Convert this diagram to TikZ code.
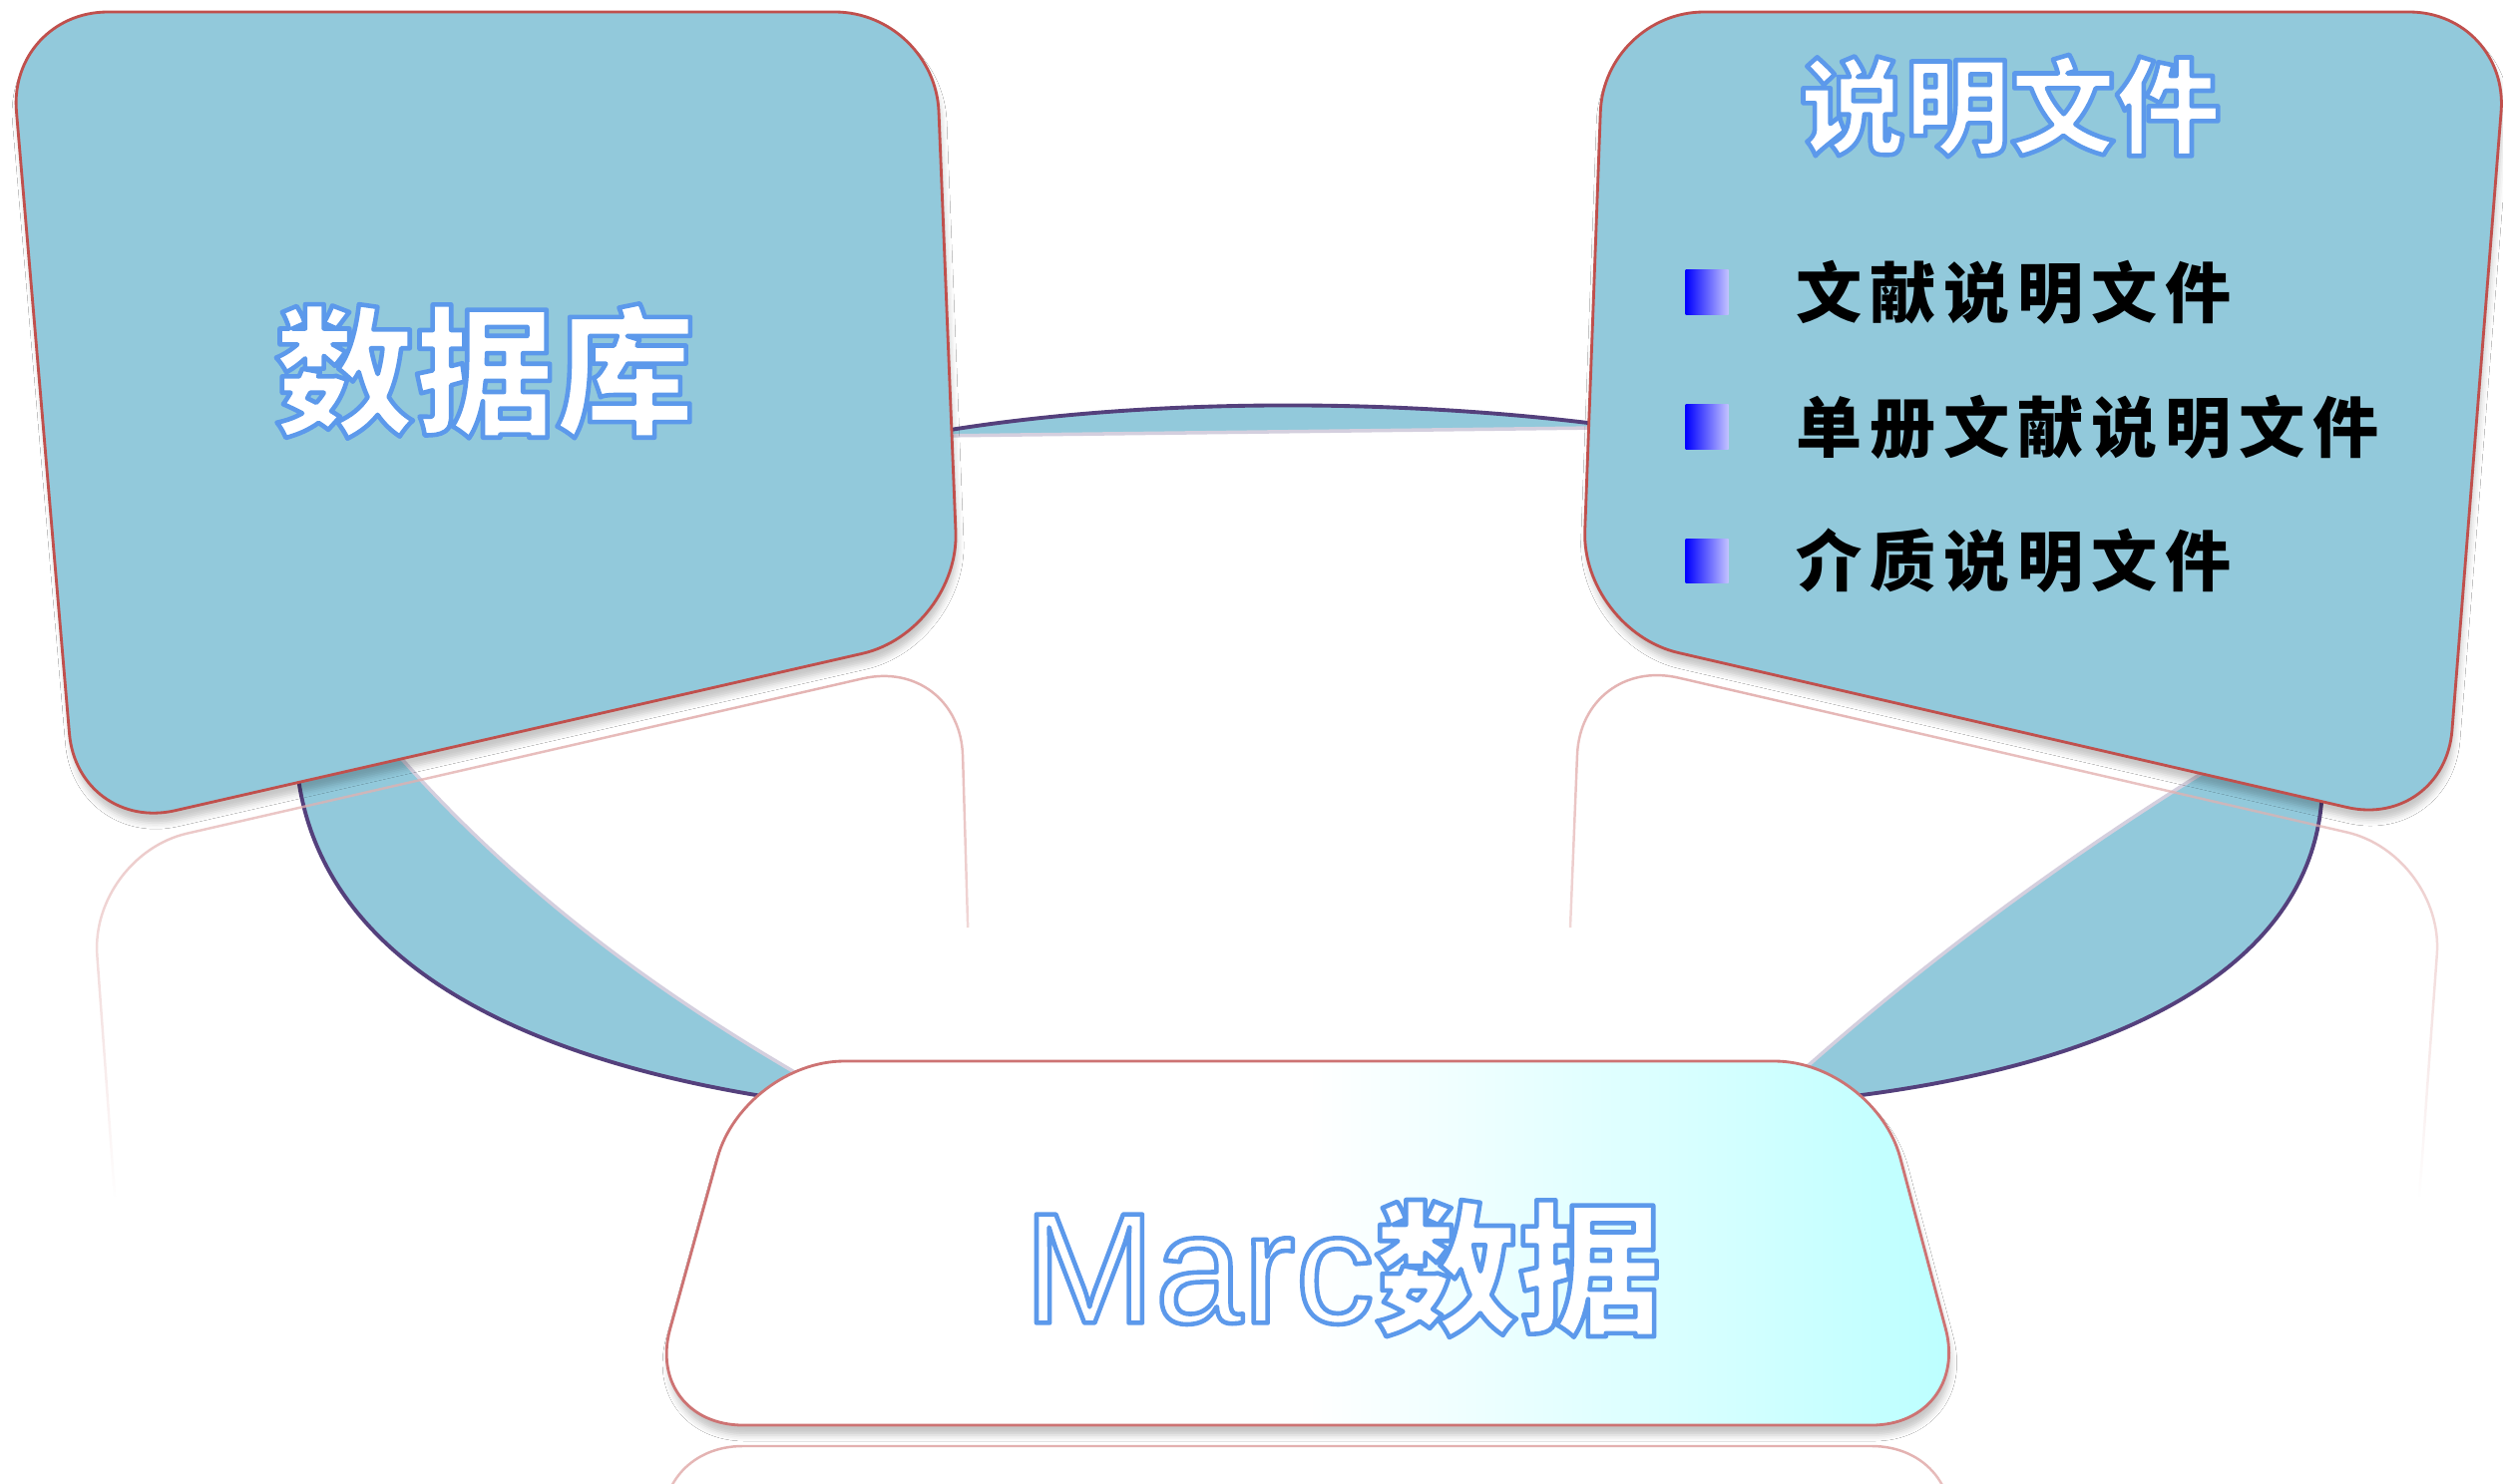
\documentclass[tikz,border=0pt]{standalone}
\usepackage{fontspec}
\usetikzlibrary{fadings, shadows.blur}
\newfontfamily\cjk{Noto Sans CJK SC}
\newfontfamily\cjkitem{Noto Sans CJK SC}[LetterSpace=12]
\newfontfamily\latin{Liberation Sans}
\definecolor{boxblue}{RGB}{146,201,219}
\definecolor{boxred}{RGB}{192,80,77}
\definecolor{bandpurple}{RGB}{84,64,124}
\definecolor{marccyan}{RGB}{186,255,255}
\definecolor{marcred}{RGB}{205,115,115}
\definecolor{bulletpale}{RGB}{195,195,255}
\tikzfading[name=fade down, top color=transparent!0, bottom color=transparent!100]
% white letters with a thin blue rim (fill and stroke)
\newcommand\arttext[1]{\special{pdf:literal direct 2 Tr 1.3 w 1 j 0.36 0.60 0.92 RG}#1\special{pdf:literal direct 0 Tr 0.4 w 0 j}}

\begin{document}
\begin{tikzpicture}[x=0.01cm, y=-0.01cm]
		\tikzset{box/.style={draw=boxred, line width=0.8pt, rounded corners=1cm}}
		\tikzset{boxshadow/.style={blur shadow={shadow xshift=0.02cm, shadow yshift=-0.1cm, shadow blur radius=0.06cm, shadow opacity=22}}}
		\tikzset{band/.style={fill=boxblue}}
		\tikzset{edge/.style={draw=bandpurple, line width=1.1pt}}
		\tikzset{glow/.style={draw=bandpurple!25, line width=1pt}}
		\tikzset{mirror/.style={draw=boxred!45, line width=0.7pt, rounded corners=1cm, path fading=fade down}}
		\tikzset{title/.style={inner sep=0pt, text=white, font=\cjk\bfseries\fontsize{40}{40}\selectfont}}
		\tikzset{item/.style={inner sep=0pt, anchor=west, font=\cjkitem\bfseries\fontsize{18.8}{20}\selectfont}}
		\tikzset{bullet/.style={inner sep=0pt, minimum width=0.43cm, minimum height=0.44cm, left color=blue, right color=bulletpale}}
		
		\path[use as bounding box, fill=white] (0,0) rectangle (2509,1487);
		
		% corners of the three boxes
		\coordinate (db1) at (8,12);
		\coordinate (db2) at (937,12);
		\coordinate (db3) at (962,633);
		\coordinate (db4) at (78,835);
		
		\coordinate (doc1) at (1608,12);
		\coordinate (doc2) at (2515,12);
		\coordinate (doc3) at (2450,832);
		\coordinate (doc4) at (1585,632);
		
		\coordinate (marc1) at (746,1064);
		\coordinate (marc2) at (1879,1064);
		\coordinate (marc3) at (1976,1429);
		\coordinate (marc4) at (645,1429);
		
		% ends of the bands
		\coordinate (db_m1) at (940,433);
		\coordinate (db_m2) at (940,437);
		\coordinate (doc_m1) at (1600,425);
		\coordinate (doc_m2) at (1600,429);
		
		\coordinate (db_l1) at (296,740);
		\coordinate (db_l2) at (372,725);
		\coordinate (marc_l1) at (770,1100);
		\coordinate (marc_l2) at (805,1080);
		
		\coordinate (doc_r1) at (2328,780);
		\coordinate (doc_r2) at (2232,760);
		\coordinate (marc_r1) at (1850,1100);
		\coordinate (marc_r2) at (1805,1075);
		
		\fill[band] (db_m1) .. controls (1150,398) and (1400,400) .. (doc_m1) -- (doc_m2) -- (db_m2) -- cycle;
		\draw[edge] (db_m1) .. controls (1150,398) and (1400,400) .. (doc_m1);
		\draw[glow] (db_m2) -- (doc_m2);
		
		\fill[band] (db_l1) .. controls (298,960) and (520,1060) .. (marc_l1) -- (marc_l2) .. controls (650,990) and (500,880) .. (db_l2) -- cycle;
		\draw[edge] (db_l1) .. controls (298,960) and (520,1060) .. (marc_l1);
		\draw[glow] (marc_l2) .. controls (650,990) and (500,880) .. (db_l2);
		
		\fill[band] (doc_r1) .. controls (2330,980) and (2100,1070) .. (marc_r1) -- (marc_r2) .. controls (1940,955) and (2085,850) .. (doc_r2) -- cycle;
		\draw[edge] (doc_r1) .. controls (2330,980) and (2100,1070) .. (marc_r1);
		\draw[glow] (marc_r2) .. controls (1940,955) and (2085,850) .. (doc_r2);
		
		% reflections
		\draw[mirror] (115,1200) -- (90,858) -- (962,658) -- (970,930);
		\draw[mirror] (1574,930) -- (1585,657) -- (2450,857) -- (2425,1200);
		\draw[mirror] (690,1650) -- (645,1450) -- (1976,1450) -- (1930,1650);
		
		\draw[box, boxshadow, fill=boxblue] (db1) -- (db2) -- (db3) -- (db4) -- cycle;
		\draw[box, boxshadow, fill=boxblue] (doc1) -- (doc2) -- (doc3) -- (doc4) -- cycle;
		\draw[box, boxshadow, draw=marcred, left color=white, right color=marccyan, middle color=white] (marc1) -- (marc2) -- (marc3) -- (marc4) -- cycle;
		
		\node[title] (db_title) at (486,372) {\arttext{数据库}};
		\node[title, font=\cjk\bfseries\fontsize{30}{30}\selectfont] (doc_title) at (2015,106) {\arttext{说明文件}};
		\node[title] (marc_title) at (1346,1272) {\arttext{{\latin\mdseries\fontsize{45}{45}\selectfont Marc}{\fontsize{41}{41}\selectfont 数据}}};
		
		\node[bullet] (bullet1) at (1711,293) {};
		\node[bullet] (bullet2) at (1711,428) {};
		\node[bullet] (bullet3) at (1711,562) {};
		
		\node[item] (item1) at (1800,293) {文献说明文件};
		\node[item] (item2) at (1800,428) {单册文献说明文件};
		\node[item] (item3) at (1800,562) {介质说明文件};
\end{tikzpicture}
\end{document}
